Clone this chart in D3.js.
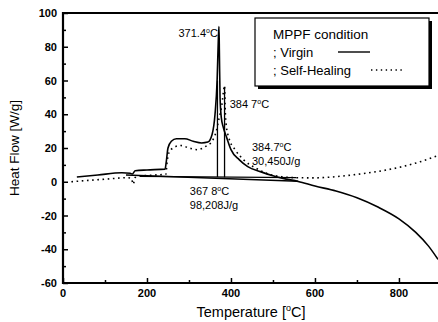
<!DOCTYPE html>
<html>
<head>
<meta charset="utf-8">
<script src="https://cdn.jsdelivr.net/npm/d3@7"></script>
<style>
  body { margin: 0; background: #fff; }
  text { font-family: "Liberation Sans", Arial, sans-serif; fill: #000; }
</style>
</head>
<body>
<div id="graph"></div>
<script>
// ---- data ----
var virginT = [33, 83, 140, 160, 165, 172, 200, 243, 246, 250, 258, 270, 290, 310, 330, 345, 355, 362, 367, 370, 371.4, 372.5, 374, 377, 382, 390, 400, 420, 440, 470, 500, 524, 560, 600, 650, 700, 750, 800, 840, 870, 893];
var virginV = [2.8, 4.0, 5.3, 5.0, 4.6, 6.5, 7.0, 7.5, 12, 20, 24, 25.5, 25.5, 24, 23, 23.5, 28, 40, 60, 85, 92, 75, 50, 38, 32, 26, 19, 13, 9, 6, 3.5, 2.0, 0.2, -2.5, -5.5, -9.5, -15, -22, -30, -38, -46];

var healT = [20, 60, 100, 155, 163, 167, 172, 187, 220, 245, 248, 252, 262, 280, 300, 320, 340, 355, 365, 372, 378, 383, 384.7, 386, 388, 395, 410, 430, 460, 490, 520, 556, 600, 640, 680, 720, 760, 800, 850, 893];
var healV = [0, 0.8, 1.5, 2.4, 2.0, -1.5, 2.5, 3.4, 4.0, 4.5, 12, 17, 20, 21.5, 20, 19, 21, 24, 30, 38, 45, 55, 57, 45, 35, 26, 19, 13, 8, 4.5, 3, 2.4, 2.3, 2.8, 3.8, 5.0, 6.5, 8.5, 11.8, 15.5];

// integration baselines / peak markers [T1, v1, T2, v2]
var baseLines = [[150, 4.0, 560, 0.3], [185, 3.2, 556, 2.5], [367.8, 2.8, 367.8, 60], [384.7, 2.6, 384.7, 56]];

var notes = [
  {t: "371.4°C", x: 275, v: 86},
  {t: "384 7°C", x: 397, v: 44},
  {t: "384.7°C", x: 450, v: 18.5},
  {t: "30,450J/g", x: 450, v: 9.8},
  {t: "367 8°C", x: 302, v: -7.8},
  {t: "98,208J/g", x: 302, v: -16}
];

var xTicks = [0, 200, 400, 600, 800];
var yTicks = [-60, -40, -20, 0, 20, 40, 60, 80, 100];

// ---- svg ----
var width = 438, height = 322;
var svg = d3.select('#graph').append('svg')
  .attr('width', width).attr('height', height);

var x = d3.scaleLinear().domain([0, 893]).range([63, 438]);
var y = d3.scaleLinear().domain([-60, 100]).range([283, 13]);

svg.append('clipPath').attr('id', 'c')
  .append('rect').attr('x', 63).attr('y', 13).attr('width', 375).attr('height', 270);

// axes, ticks inward
var xAx = d3.axisTop(x).tickValues(d3.range(0, 900, 100)).tickSize(4).tickFormat('');
svg.append('g').attr('transform', 'translate(0,283)').call(xAx)
  .call(function(g) { g.select('.domain').remove(); })
  .selectAll('line').attr('stroke-width', 1.5)
  .attr('y2', function(d) { return d % 200 === 0 ? -5 : -3; });

var yAx = d3.axisRight(y).tickValues(d3.range(-60, 101, 10)).tickSize(4).tickFormat('');
svg.append('g').attr('transform', 'translate(63,0)').call(yAx)
  .call(function(g) { g.select('.domain').remove(); })
  .selectAll('line').attr('stroke-width', 1.5)
  .attr('x2', function(d) { return d % 20 === 0 ? 5 : 3; });

// frame
svg.append('path')
  .attr('d', 'M438,13H63V283H438')
  .attr('fill', 'none').attr('stroke', '#000').attr('stroke-width', 2.2);

svg.selectAll('.xl').data(xTicks).enter().append('text')
  .attr('x', function(d) { return x(d); }).attr('y', 297)
  .attr('text-anchor', 'middle').attr('font-size', 11).attr('font-weight', 'bold')
  .text(function(d) { return d; });

svg.selectAll('.yl').data(yTicks).enter().append('text')
  .attr('x', 57).attr('y', function(d) { return y(d) + 4; })
  .attr('text-anchor', 'end').attr('font-size', 11).attr('font-weight', 'bold')
  .text(function(d) { return d; });

var xt = svg.append('text').attr('x', 251).attr('y', 317).attr('text-anchor', 'middle').attr('font-size', 14.5);
xt.append('tspan').text('Temperature [');
xt.append('tspan').attr('font-size', 9).attr('dy', -6).text('o');
xt.append('tspan').attr('dy', 6).text('C]');

svg.append('text').attr('transform', 'translate(19,148) rotate(-90)')
  .attr('text-anchor', 'middle').attr('font-size', 13.5).text('Heat Flow [W/g]');

// curves
var plot = svg.append('g').attr('clip-path', 'url(#c)');
var line = d3.line()
  .x(function(d) { return x(d[0]); })
  .y(function(d) { return y(d[1]); })
  .curve(d3.curveMonotoneX);

plot.append('path')
  .datum(d3.zip(virginT, virginV))
  .attr('d', line).attr('fill', 'none').attr('stroke', '#000').attr('stroke-width', 1.6);

plot.append('path')
  .datum(d3.zip(healT, healV))
  .attr('d', line).attr('fill', 'none').attr('stroke', '#000').attr('stroke-width', 1.6)
  .attr('stroke-dasharray', '1.6,3.6');

plot.selectAll('.bl').data(baseLines).enter().append('line')
  .attr('x1', function(d) { return x(d[0]); }).attr('y1', function(d) { return y(d[1]); })
  .attr('x2', function(d) { return x(d[2]); }).attr('y2', function(d) { return y(d[3]); })
  .attr('stroke', '#000').attr('stroke-width', 1.3);

// annotations
notes.forEach(function(n) {
  var parts = n.t.split('°');
  var t = svg.append('text').attr('x', x(n.x)).attr('y', y(n.v)).attr('font-size', 11);
  t.append('tspan').text(parts[0]);
  if (parts.length > 1) {
    t.append('tspan').attr('font-size', 7).attr('dy', -4).text('o');
    t.append('tspan').attr('dy', 4).text(parts[1]);
  }
});

// legend
var lg = svg.append('g');
lg.append('rect').attr('x', 258).attr('y', 21).attr('width', 174).attr('height', 68).attr('fill', '#000');
lg.append('rect').attr('x', 255).attr('y', 18).attr('width', 174).attr('height', 68)
  .attr('fill', '#fff').attr('stroke', '#000').attr('stroke-width', 1.2);
lg.append('text').attr('x', 273).attr('y', 39).attr('font-size', 13.5).text('MPPF condition');
lg.append('text').attr('x', 273).attr('y', 57).attr('font-size', 13).text('; Virgin');
lg.append('text').attr('x', 273).attr('y', 75).attr('font-size', 13).text('; Self-Healing');
lg.append('line').attr('x1', 338).attr('x2', 370).attr('y1', 52).attr('y2', 52)
  .attr('stroke', '#000').attr('stroke-width', 1.4);
lg.append('line').attr('x1', 371).attr('x2', 402).attr('y1', 70).attr('y2', 70)
  .attr('stroke', '#000').attr('stroke-width', 1.4).attr('stroke-dasharray', '1.4,3.5');
</script>
</body>
</html>
